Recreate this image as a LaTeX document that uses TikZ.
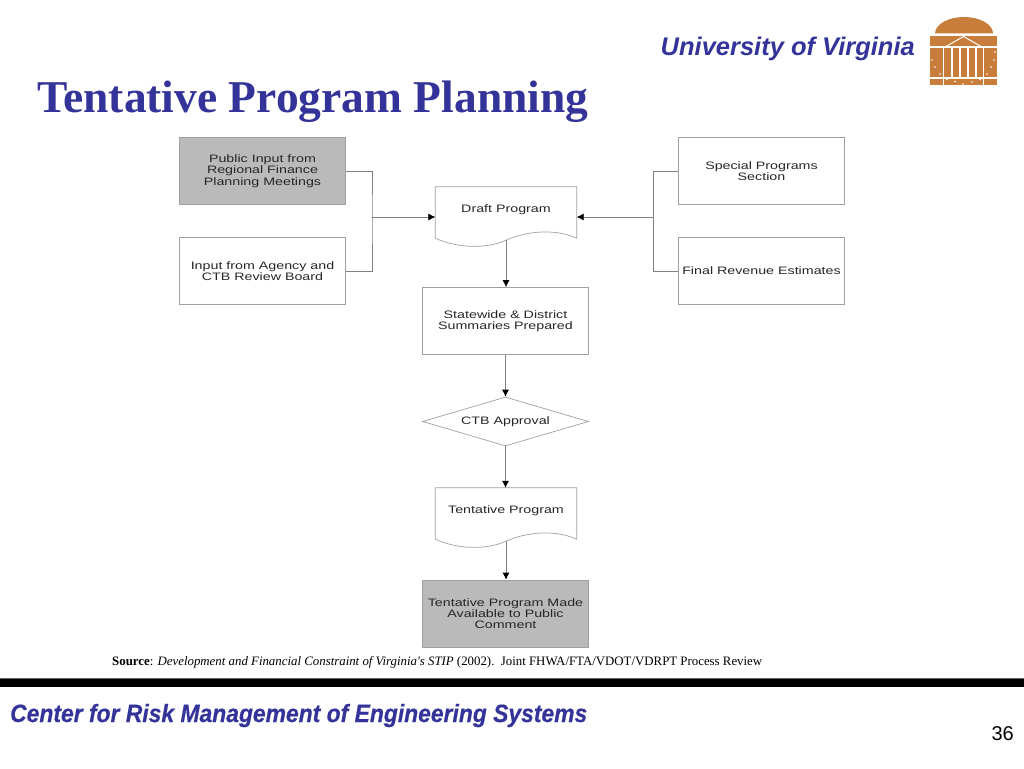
\documentclass[tikz,border=0pt]{standalone}
\usepackage[rgb]{xcolor}
\usepackage{fontspec}
\setmainfont{Liberation Serif}
\setsansfont{Liberation Sans}
\newfontfamily\boxfont[FakeStretch=1.32]{Liberation Sans}
\newfontfamily\footfont[BoldItalicFeatures={FakeStretch=0.915,FakeBold=0.5}]{Liberation Sans}
\usetikzlibrary{shapes.geometric,arrows.meta}
\definecolor{uvablue}{RGB}{51,51,153}
\definecolor{uvaorange}{RGB}{200,125,58}
\definecolor{boxgray}{RGB}{186,186,186}
\definecolor{edgegray}{RGB}{160,160,160}
\tikzset{
  block/.style={draw=edgegray, line width=0.7pt, minimum width=166pt, minimum height=67pt, inner sep=0pt, align=center, font=\boxfont\fontsize{10.8}{11.3}\selectfont, text=black!85},
  shaded/.style={block, fill=boxgray},
  decision/.style={block, shape=diamond, aspect=3.4, minimum width=166pt, minimum height=49pt},
  sheet/.style={minimum width=141pt, minimum height=60pt, inner sep=0pt},
  sheetlabel/.style={font=\boxfont\fontsize{10.8}{11.3}\selectfont, text=black!85},
  link/.style={draw=black!50, line width=0.7pt},
  arrowlink/.style={link, -{Latex[black,length=7pt,width=7pt]}}
}
\begin{document}
\begin{tikzpicture}[x=1pt, y=-1pt]
\useasboundingbox (0,0) rectangle (1024,768);

% headings
 \node[anchor=base east, inner sep=0pt, font=\sffamily\bfseries\itshape\fontsize{25.5}{25}\selectfont, text=uvablue] (uva) at (915,56) {University of Virginia};
 \node[anchor=base west, inner sep=0pt, font=\rmfamily\bfseries\fontsize{45.5}{45}\selectfont, text=uvablue] (title) at (37,112) {Tentative Program Planning};

% rotunda
 \fill[uvaorange] (935,33.5) arc[start angle=180, end angle=360, x radius=29, y radius=16.5] -- cycle;
 \fill[uvaorange] (930,36) rectangle (997,46.5);
 \fill[uvaorange] (930,48) rectangle (997,77);
 \fill[uvaorange] (930,78.5) rectangle (997,85);
 \draw[white, line width=1pt] (945,47) -- (963.5,36.5) -- (982,47);
 \foreach \x in {952,960,968,976}
  {
  \draw[white, line width=1.2pt] (\x,47) -- (\x,78);
  }
 \foreach \x in {943.5,983.5}
  {
  \draw[white, line width=1.2pt] (\x,47) -- (\x,85);
  }
 \foreach \x/\y in {932/60, 935/67, 940/74, 995/52, 994/60, 991/67, 987/74, 947/79.5, 955/81.5, 963/84, 972/82, 980/79.5}
  {
  \fill[white] (\x,\y) circle [radius=0.8];
  }

% boxes
 \node[shaded] (regional) at (262.5,171) {Public Input from\\Regional Finance\\Planning Meetings};
 \node[block] (agency) at (262.5,271) {Input from Agency and\\CTB Review Board};
 \node[block] (special) at (761.5,171) {Special Programs\\Section};
 \node[block] (revenue) at (761.5,271) {Final Revenue Estimates};
 \node[sheet] (draft) at (506,217) {};
 \node[block] (summaries) at (505.5,321) {Statewide \& District\\Summaries Prepared};
 \node[decision] (approval) at (505.5,421.5) {CTB Approval};
 \node[sheet] (tentative) at (506,518) {};
 \node[shaded] (public) at (505.5,613.5) {Tentative Program Made\\Available to Public\\Comment};

% wavy sheets
 \foreach \n/\t in {draft/Draft Program, tentative/Tentative Program}
  {
  \draw[draw=edgegray, line width=0.7pt] (\n.north west) -- (\n.north east) -- ([yshift=9pt]\n.south east)
   .. controls +(-22,-10) and +(20,-9) .. ([yshift=7pt]\n.south)
   .. controls +(-20,9) and +(22,10) .. ([yshift=9pt]\n.south west) -- cycle;
  \node[sheetlabel] (\n label) at ([yshift=7pt]\n.center) {\t};
  }

% connectors
 \coordinate (leftjoin) at (372,217);
 \coordinate (rightjoin) at (653,217);
 \draw[link] (regional.east) -| (leftjoin) |- (agency.east);
 \draw[link] (special.west) -| (rightjoin) |- (revenue.west);
 \draw[arrowlink] (leftjoin) -- (draft.west);
 \draw[arrowlink] (rightjoin) -- (draft.east);
 \draw[arrowlink] ([yshift=7pt]draft.south) -- (draft.south |- summaries.north);
 \draw[arrowlink] (summaries.south) -- (approval.north);
 \draw[arrowlink] (approval.south) -- (approval.south |- tentative.north);
 \draw[arrowlink] ([yshift=7pt]tentative.south) -- (tentative.south |- public.north);

% source and footer
 \node[anchor=base west, inner sep=0pt, font=\rmfamily\fontsize{12.85}{13}\selectfont] (source) at (112,665) {\textbf{Source}: \textit{Development and Financial Constraint of Virginia\textquotesingle s STIP} (2002).\ \ Joint FHWA/FTA/VDOT/VDRPT Process Review};
 \fill[black!60] (0,677.5) rectangle (1024,678.5);
 \fill[black] (0,678.5) rectangle (1024,687);
 \node[anchor=base west, inner sep=0pt, font=\footfont\bfseries\itshape\fontsize{25}{25}\selectfont, text=uvablue] (center) at (10,722) {Center for Risk Management of Engineering Systems};
 \node[anchor=base east, inner sep=0pt, font=\sffamily\fontsize{20}{20}\selectfont] (page) at (1014,740) {36};

\end{tikzpicture}
\end{document}
